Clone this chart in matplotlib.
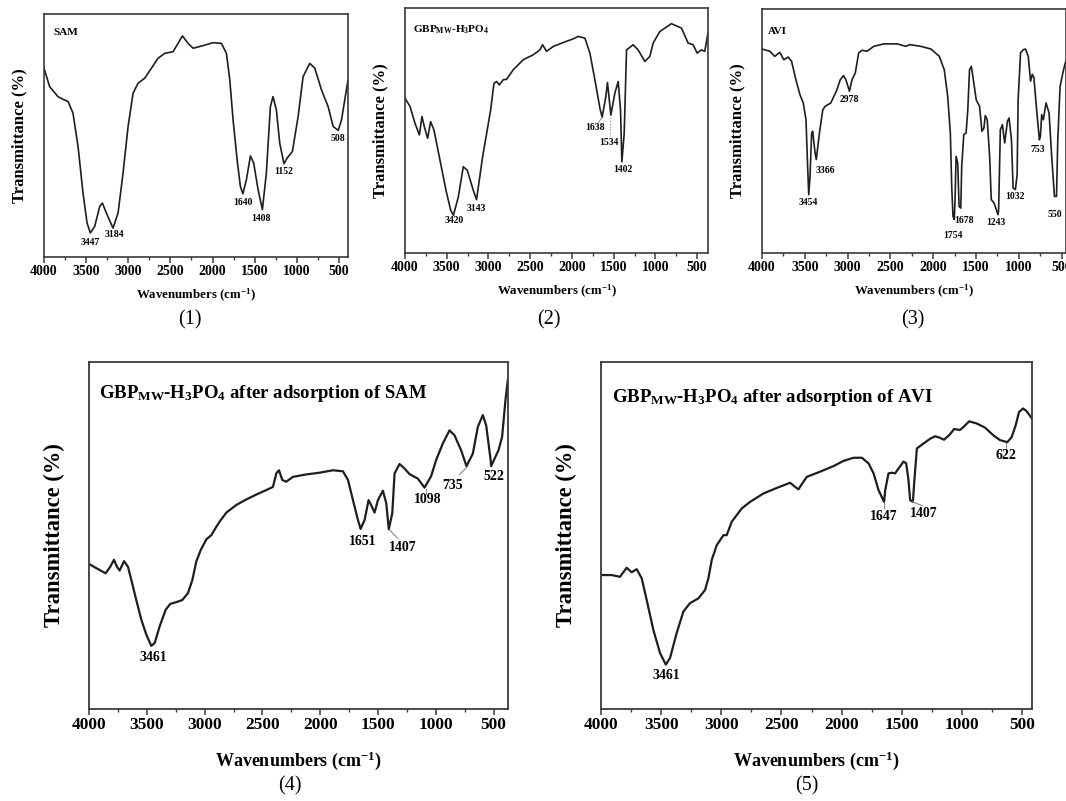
import matplotlib
matplotlib.use("Agg")
import matplotlib.pyplot as plt
from matplotlib.ticker import MultipleLocator

plt.rcParams['font.family'] = ['Liberation Serif', 'DejaVu Serif']
plt.rcParams['mathtext.fontset'] = 'custom'
plt.rcParams['mathtext.rm'] = 'Liberation Serif:bold'
plt.rcParams['mathtext.it'] = 'Liberation Serif:bold:italic'
plt.rcParams['mathtext.bf'] = 'Liberation Serif:bold'
plt.rcParams['mathtext.default'] = 'rm'

# ---------------- data (wavenumber, relative transmittance 0-100) ----------------
sam_x = [4000, 3933, 3834, 3774, 3715, 3656, 3596, 3537, 3489, 3450, 3398, 3339, 3307, 3260,
         3181, 3121, 3062, 3002, 2943, 2884, 2804, 2725, 2646, 2567, 2468, 2409, 2357, 2290,
         2230, 2111, 1993, 1894, 1835, 1795, 1756, 1708, 1669, 1640, 1598, 1550, 1511, 1459,
         1408, 1361, 1313, 1282, 1242, 1202, 1152, 1115, 1052, 984, 925, 846, 786, 707, 628,
         568, 508, 469, 392]
sam_y = [77.7, 70.1, 66.0, 64.9, 64.0, 59.2, 45.5, 26.3, 14.0, 9.9, 12.6, 20.8, 22.2, 18.1,
         11.9, 18.1, 34.5, 53.7, 67.4, 71.5, 73.6, 77.7, 81.8, 83.8, 84.5, 87.9, 91.0, 87.9,
         85.9, 87.0, 88.2, 87.9, 83.8, 72.9, 56.4, 40.0, 29.0, 26.0, 31.8, 41.6, 38.6, 27.7,
         19.5, 34.5, 61.9, 66.0, 60.5, 46.8, 38.4, 40.7, 43.4, 57.8, 74.2, 79.7, 77.7, 68.8, 61.9,
         53.7, 52.1, 56.4, 72.9]

gbp_x = [4000, 3940, 3880, 3828, 3797, 3769, 3729, 3693, 3653, 3581, 3509, 3453, 3420, 3361,
         3302, 3254, 3182, 3143, 3070, 3022, 2974, 2934, 2902, 2870, 2823, 2783, 2703, 2583,
         2464, 2384, 2352, 2304, 2224, 2104, 1985, 1925, 1845, 1785, 1725, 1665, 1638, 1594,
         1574, 1534, 1486, 1446, 1418, 1402, 1374, 1346, 1267, 1207, 1127, 1067, 1027, 947,
         808, 688, 608, 548, 500, 449, 409, 370]
gbp_y = [63.2, 59.8, 52.9, 48.2, 55.7, 51.6, 46.8, 53.6, 50.2, 37.9, 25.6, 17.5, 15.4, 22.9,
         35.2, 33.8, 25.6, 21.8, 39.3, 48.8, 58.4, 69.3, 70.0, 68.6, 70.7, 70.9, 74.8, 78.9,
         80.9, 82.9, 85.0, 82.3, 84.3, 85.9, 87.4, 88.4, 87.7, 81.6, 70.7, 59.1, 55.4, 63.8,
         69.6, 56.3, 65.2, 70.0, 58.4, 37.2, 48.8, 82.9, 85.0, 82.9, 78.2, 80.2, 85.7, 90.4,
         93.6, 91.8, 85.7, 85.0, 81.6, 82.9, 82.3, 89.8]

avi_x = [4000, 3910, 3851, 3792, 3745, 3694, 3655, 3604, 3557, 3518, 3486, 3467, 3454, 3439,
         3420, 3408, 3380, 3366, 3329, 3290, 3263, 3196, 3125, 3086, 3047, 3020, 2978, 2949,
         2910, 2871, 2831, 2773, 2694, 2576, 2420, 2322, 2271, 2145, 2027, 1929, 1871, 1831,
         1800, 1784, 1769, 1754, 1745, 1733, 1714, 1698, 1678, 1667, 1643, 1616, 1596, 1576,
         1555, 1537, 1498, 1459, 1431, 1408, 1392, 1369, 1341, 1322, 1290, 1243, 1236, 1216,
         1192, 1165, 1133, 1114, 1086, 1067, 1040, 1020, 1008, 980, 949, 922, 890, 863, 843,
         824, 792, 760, 748, 733, 714, 682, 647, 616, 584, 560, 545, 518, 478, 447]
avi_y = [83.6, 82.7, 80.6, 82.2, 79.2, 80.3, 78.6, 71.0, 64.9, 61.5, 54.6, 35.5, 23.9, 31.4,
         49.2, 49.9, 41.0, 38.3, 49.2, 58.7, 60.1, 61.5, 66.9, 71.0, 72.7, 71.0, 66.3, 71.0,
         73.8, 82.0, 83.1, 82.7, 84.7, 85.7, 85.7, 84.7, 85.4, 84.7, 83.6, 80.6, 75.1, 64.2,
         49.2, 27.3, 15.0, 13.7, 21.9, 39.6, 36.9, 19.1, 18.4, 35.5, 48.5, 49.2, 58.7, 75.1,
         76.5, 72.4, 62.8, 60.1, 49.9, 51.2, 56.3, 54.6, 39.6, 21.9, 20.5, 15.7, 17.8, 50.5,
         52.6, 45.1, 54.0, 55.3, 46.4, 26.6, 26.0, 32.1, 62.8, 82.0, 83.3, 83.6, 80.6, 70.4, 73.2,
         71.9, 58.7, 46.4, 47.8, 56.7, 54.6, 61.5, 57.4, 39.6, 23.2, 23.2, 46.4, 68.3, 75.1, 79.2]

sam_ads_x = [4000, 3937, 3856, 3816, 3784, 3758, 3735, 3697, 3663, 3634, 3591, 3547, 3504, 3461,
             3432, 3389, 3337, 3297, 3245, 3193, 3144, 3106, 3072, 3034, 2985, 2942, 2899, 2870,
             2812, 2726, 2639, 2553, 2466, 2409, 2380, 2357, 2328, 2294, 2236, 2121, 2005, 1890,
             1803, 1760, 1717, 1674, 1651, 1616, 1582, 1559, 1530, 1501, 1458, 1429, 1407, 1377,
             1357, 1314, 1271, 1228, 1156, 1098, 1041, 998, 940, 882, 839, 782, 735, 680, 637,
             594, 565, 527, 522, 458, 427, 398, 378]
sam_ads_y = [41.8, 40.6, 39.1, 41.0, 43.0, 41.0, 39.9, 42.6, 41.0, 37.2, 31.4, 25.7, 21.4, 18.2,
             19.0, 23.8, 28.6, 30.3, 30.8, 31.4, 33.4, 37.2, 42.5, 45.8, 48.9, 50.1, 52.5, 54.0,
             56.6, 58.8, 60.4, 61.8, 63.1, 64.0, 67.9, 68.8, 66.0, 65.5, 66.9, 67.6, 68.1, 68.8,
             68.5, 66.0, 60.2, 54.5, 51.9, 54.5, 60.2, 58.7, 56.6, 60.2, 62.9, 59.3, 51.8, 56.4,
             67.9, 70.6, 69.3, 67.7, 66.4, 63.8, 67.1, 71.7, 76.5, 80.3, 78.9, 74.6, 70.0, 73.6,
             81.3, 84.7, 81.8, 72.0, 70.0, 74.6, 78.4, 89.0, 94.7]

avi_ads_x = [4000, 3911, 3842, 3787, 3745, 3703, 3662, 3620, 3565, 3509, 3461, 3426, 3371, 3315,
             3260, 3190, 3135, 3107, 3079, 3038, 2982, 2955, 2913, 2871, 2830, 2760, 2650, 2539,
             2428, 2386, 2358, 2331, 2289, 2178, 2067, 1984, 1901, 1831, 1776, 1734, 1693, 1647,
             1637, 1610, 1582, 1555, 1527, 1485, 1463, 1444, 1430, 1407, 1397, 1374, 1319, 1263,
             1222, 1186, 1148, 1103, 1064, 1016, 983, 939, 878, 808, 739, 684, 622, 587, 553, 525,
             491, 464, 417]
avi_ads_y = [38.6, 38.6, 38.1, 40.7, 39.4, 40.3, 37.7, 31.4, 22.8, 16.1, 12.8, 14.7, 21.9, 28.1,
             30.5, 31.9, 34.3, 37.7, 43.0, 47.2, 50.1, 50.1, 54.0, 55.9, 57.8, 59.7, 62.1, 63.7,
             65.2, 64.0, 63.3, 64.8, 66.9, 68.4, 70.0, 71.5, 72.4, 72.4, 70.8, 67.9, 63.1, 59.7,
             63.1, 67.9, 68.1, 67.9, 69.3, 71.3, 70.8, 66.0, 60.2, 59.7, 64.9, 75.1, 76.5, 77.9,
             78.6, 78.2, 77.6, 79.0, 80.7, 80.4, 81.4, 82.9, 82.3, 81.1, 78.9, 77.5, 76.9, 78.3,
             81.7, 85.6, 86.6, 85.9, 83.7]

# peak labels: (text, x, y)
sam_labels = [("3447", 3450, 5.8), ("3184", 3169, 9.2), ("1640", 1644, 22.6),
              ("1408", 1419, 16.0), ("1152", 1150, 35.2), ("508", 516, 48.9)]
gbp_labels = [("3420", 3409, 13.4), ("3143", 3142, 18.1), ("1638", 1721, 51.2),
              ("1534", 1560, 45.0), ("1402", 1386, 34.2)]
avi_labels = [("3454", 3459, 20.8), ("3366", 3263, 33.9), ("2978", 2976, 62.8),
              ("1754", 1773, 7.1), ("1678", 1635, 13.3), ("1243", 1271, 12.3),
              ("1032", 1047, 23.2), ("753", 784, 42.3), ("550", 576, 15.7)]
sam_ads_labels = [("3461", 3441, 14.9), ("1651", 1630, 48.4), ("1407", 1290, 46.6),
                  ("1098", 1068, 60.4), ("735", 858, 64.5), ("522", 497, 66.9)]
avi_ads_labels = [("3461", 3459, 9.6), ("1647", 1651, 55.4), ("1407", 1318, 56.2),
                  ("622", 631, 73.0)]

W, H = 1066, 801
fig = plt.figure(figsize=(W / 100, H / 100), dpi=100)

LINE = '#1e1e1e'
SPINE = '#3a3a3a'


def make_axes(rect_px, xlim, tick_fs, xl_fs, yl_fs, xl_off, yl_off, spine_lw):
    x0, y0, x1, y1 = rect_px
    ax = fig.add_axes([x0 / W, 1 - y1 / H, (x1 - x0) / W, (y1 - y0) / H])
    ax.set_xlim(*xlim)
    ax.set_ylim(0, 100)
    ax.set_yticks([])
    ax.xaxis.set_major_locator(MultipleLocator(500))
    ax.xaxis.set_minor_locator(MultipleLocator(250))
    ax.tick_params(axis='x', which='major', direction='out', length=4, width=1.1,
                   labelsize=tick_fs, pad=2, color=SPINE, top=False)
    ax.tick_params(axis='x', which='minor', direction='out', length=2.5, width=1.0,
                   color=SPINE, top=False)
    for lab in ax.get_xticklabels():
        lab.set_fontweight('bold')
    for s in ax.spines.values():
        s.set_color(SPINE)
        s.set_linewidth(spine_lw)
    ax.set_xlabel('Wavenumbers (cm$^{-1}$)', fontsize=xl_fs, fontweight='bold')
    ax.set_ylabel('Transmittance (%)', fontsize=yl_fs, fontweight='bold')
    ax.xaxis.set_label_coords(0.5, xl_off)
    ax.yaxis.set_label_coords(yl_off, 0.5)
    return ax


# ---------------- upper panels ----------------
ax1 = make_axes((44, 14, 348, 257), (4000, 392), 10, 9.3, 12, -0.122, -0.056, 1.2)
ax1.plot(sam_x, sam_y, color=LINE, lw=1.2)
ax1.text(0.03, 0.925, 'SAM', transform=ax1.transAxes, fontsize=8, fontweight='bold', va='center')
for t, x, y in sam_labels:
    ax1.text(x, y, t, fontsize=7, fontweight='bold', ha='center', va='center')

ax2 = make_axes((405, 8, 708, 253), (4000, 370), 10, 9.3, 12, -0.122, -0.056, 1.2)
ax2.plot(gbp_x, gbp_y, color=LINE, lw=1.2)
ax2.text(0.027, 0.91, 'GBP$_{\\mathrm{MW}}$-H$_3$PO$_4$', transform=ax2.transAxes,
         fontsize=8, fontweight='bold', va='center')
for t, x, y in gbp_labels:
    ax2.text(x, y, t, fontsize=7, fontweight='bold', ha='center', va='center')
ax2.plot([1680, 1636], [53.4, 55.4], color='#888888', lw=0.7)
ax2.plot([1540, 1534], [47.5, 56.0], color='#888888', lw=0.8, ls=':')

ax3 = make_axes((762, 9, 1066, 253), (4000, 449), 10, 9.3, 12, -0.122, -0.056, 1.2)
ax3.plot(avi_x, avi_y, color=LINE, lw=1.2)
ax3.text(0.02, 0.908, 'AVI', transform=ax3.transAxes, fontsize=8, fontweight='bold', va='center')
for t, x, y in avi_labels:
    ax3.text(x, y, t, fontsize=7, fontweight='bold', ha='center', va='center')

# ---------------- lower panels ----------------
ax4 = make_axes((89, 362, 508, 709), (4000, 376), 12.5, 13, 16.3, -0.118, -0.057, 1.3)
ax4.plot(sam_ads_x, sam_ads_y, color=LINE, lw=1.6)
ax4.text(0.025, 0.909, 'GBP$_{\\mathrm{MW}}$-H$_3$PO$_4$ after adsorption of SAM',
         transform=ax4.transAxes, fontsize=13.5, fontweight='bold', va='center')
for t, x, y in sam_ads_labels:
    ax4.text(x, y, t, fontsize=10, fontweight='bold', ha='center', va='center')
ax4.plot([1400, 1330], [51.6, 49.2], color='#888888', lw=0.8)
ax4.plot([1085, 1085], [63.5, 62.0], color='#888888', lw=0.8)
ax4.plot([724, 796], [69.9, 67.6], color='#888888', lw=0.8)

ax5 = make_axes((601, 362, 1032, 709), (4000, 417), 12.5, 13, 16.3, -0.118, -0.056, 1.3)
ax5.plot(avi_ads_x, avi_ads_y, color=LINE, lw=1.6)
ax5.text(0.025, 0.899, 'GBP$_{\\mathrm{MW}}$-H$_3$PO$_4$ after adsorption of AVI',
         transform=ax5.transAxes, fontsize=13.5, fontweight='bold', va='center')
for t, x, y in avi_ads_labels:
    ax5.text(x, y, t, fontsize=10, fontweight='bold', ha='center', va='center')
ax5.plot([1650, 1650], [59.5, 58.0], color='#888888', lw=0.8)
ax5.plot([1410, 1330], [59.7, 58.6], color='#888888', lw=0.8)
ax5.plot([631, 631], [76.7, 75.0], color='#888888', lw=0.8)

# ---------------- captions ----------------
captions = ["(1)", "(2)", "(3)", "(4)", "(5)"]
cap_pos = [(190, 320), (549, 320), (913, 320), (290, 786), (807, 786)]
for c, (px, py) in zip(captions, cap_pos):
    fig.text(px / W, 1 - py / H, c, fontsize=14.5, ha='center', va='center')

fig.savefig('out.png', dpi=100)
